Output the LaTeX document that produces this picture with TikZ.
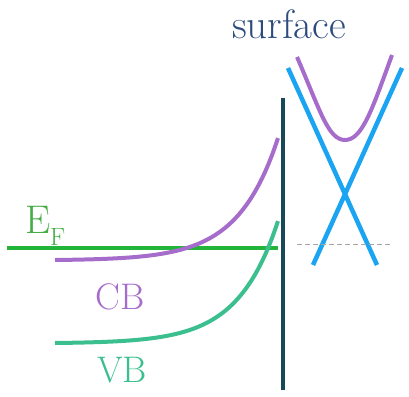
\documentclass[tikz,border=0pt]{standalone}
\usepackage{tikz}
\usetikzlibrary{positioning,calc}

\definecolor{surfblue}{HTML}{2E4B7E}
\definecolor{wallteal}{HTML}{17495A}
\definecolor{fermigreen}{HTML}{22B53A}
\definecolor{labgreen}{HTML}{45AD45}
\definecolor{cbpurple}{HTML}{A66CCB}
\definecolor{vbteal}{HTML}{3CBF8E}
\definecolor{conecyan}{HTML}{1AA4F2}

\begin{document}
\begin{tikzpicture}[x=1pt, y=-1pt, line width=4pt,
    lab/.style={font=\fontsize{37}{39}\selectfont, inner sep=0pt, anchor=base}]
  \useasboundingbox (0,0) rectangle (409,396);

  % title
  \node[lab, text=surfblue, font=\fontsize{41}{44}\selectfont] (surf) at (289,38) {surface};

  % surface wall and Fermi level
  \draw[wallteal] (283,98) -- (283,390);
  \draw[fermigreen] (7,248) -- (278,248);
  \node[lab, text=labgreen, font=\fontsize{40}{42}\selectfont, anchor=base west] (ef) at (23,233)
      {E\raisebox{-12pt}{\fontsize{25}{25}\selectfont F}};

  % band bending towards the surface (schematic exponential)
  \draw[cbpurple, smooth, samples=40, domain=55:278]
      plot (\x, {260-0.464*(exp((\x-55)/40)-1)});
  \node[lab, text=cbpurple] (cb) at (120,309) {CB};
  \draw[vbteal, smooth, samples=40, domain=55:278]
      plot (\x, {343-0.464*(exp((\x-55)/40)-1)});
  \node[lab, text=vbteal] (vb) at (122,382) {VB};

  % surface state: Dirac cone and bulk band
  \draw[conecyan, line width=4.5pt] (288,68) -- (377,265);
  \draw[conecyan, line width=4.5pt] (402,68) -- (313,265);
  \draw[cbpurple]
      (297,57) .. controls (320,110) and (328,140) .. (345,140)
               .. controls (362,140) and (372,110) .. (392,55);
  \draw[gray!70, line width=1pt, dash pattern=on 5pt off 3pt] (297,244) -- (392,244);
\end{tikzpicture}
\end{document}
